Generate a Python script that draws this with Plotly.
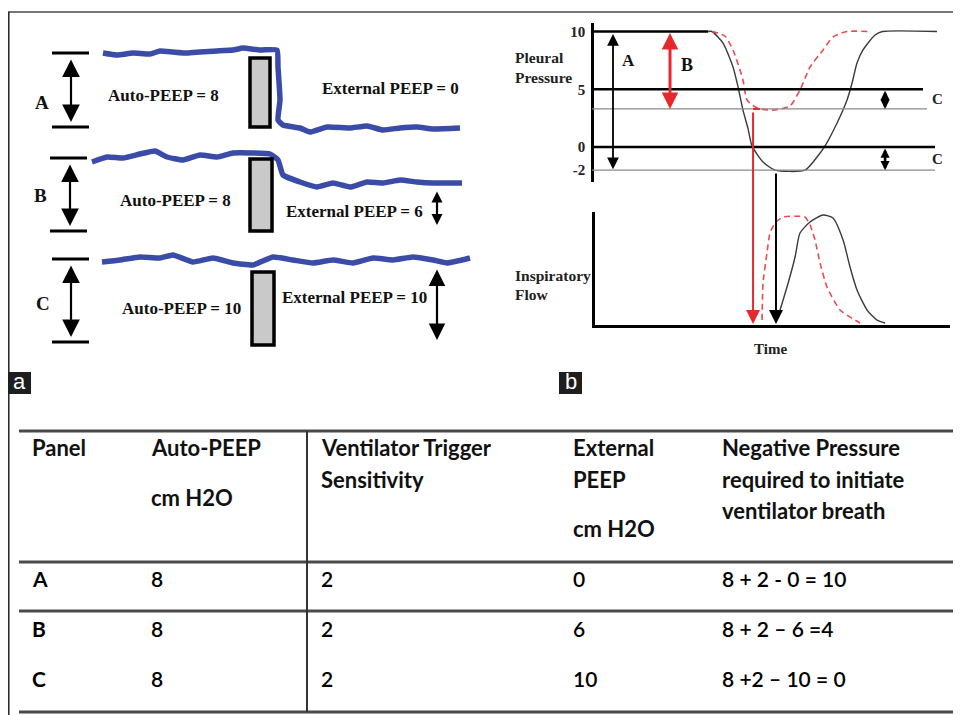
import plotly.graph_objects as go

# page is 961x715; the html body adds an 8px margin, so the figure is sized to fill the rest
OFF = 8
FW, FH = 961 - OFF, 715 - OFF

# ---------------- Panel a: airway pressure traces (schematic units) ----------------
a_trace_A_x = [103, 117, 133, 150, 160, 173, 187, 200, 217, 233, 243, 260, 277, 278, 280, 278, 283, 300, 310, 327, 350, 367, 383, 400, 417, 433, 460]
a_trace_A_y = [53, 55, 53, 54, 51, 52, 53, 52, 51, 50, 48, 50, 50, 67, 100, 120, 125, 128, 132, 127, 128, 126, 130, 128, 127, 129, 128]
a_trace_B_x = [92, 107, 123, 140, 155, 167, 183, 200, 217, 233, 253, 270, 278, 283, 300, 317, 333, 350, 367, 383, 400, 417, 433, 462]
a_trace_B_y = [162, 157, 158, 154, 151, 157, 160, 155, 157, 153, 153, 154, 160, 175, 182, 187, 183, 187, 182, 183, 180, 182, 183, 183]
a_trace_C_x = [102, 120, 140, 160, 173, 193, 213, 233, 253, 273, 293, 313, 333, 353, 373, 393, 413, 433, 447, 470]
a_trace_C_y = [262, 260, 257, 258, 255, 262, 258, 263, 265, 257, 260, 263, 260, 263, 258, 260, 257, 260, 263, 258]

a_row_labels = ["A", "B", "C"]
a_auto_labels = ["Auto-PEEP = 8", "Auto-PEEP = 8", "Auto-PEEP = 10"]
a_ext_labels = ["External PEEP = 0", "External PEEP = 6", "External PEEP = 10"]
a_row_top = [53, 158, 259]
a_row_bottom = [127, 231, 342]
a_occl_x0 = [250, 250, 252]
a_occl_x1 = [270, 272, 274]
a_occl_y0 = [58, 159, 272]
a_occl_y1 = [127, 231, 345]
a_ext_arrow_top = [190, 268]      # rows B, C
a_ext_arrow_bottom = [225, 340]

# ---------------- Panel b: pleural pressure (cm H2O) and inspiratory flow vs time ----------------
pressure_ticks = [10, 5, 0, -2]
ref_levels = [10, 5, 3.3, 0, -2]
ref_end_t = [0.967, 2.758, 2.792, 2.858, 2.858]
ref_thick = [True, True, False, True, False]

p_black_t = [0.967, 1.0, 1.092, 1.175, 1.217, 1.258, 1.3, 1.333, 1.425, 1.525, 1.775, 1.875, 1.942, 2.042, 2.125, 2.167, 2.208, 2.258, 2.358, 2.42, 2.875]
p_black_P = [10, 10, 9.0, 6.93, 5.2, 3.2, 1.6, 0.1, -1.29, -2.0, -2.0, -0.86, 0.1, 2.08, 4.07, 5.54, 7.27, 8.4, 9.7, 10, 10]
p_red_t = [1.0, 1.108, 1.175, 1.258, 1.292, 1.375, 1.508, 1.65, 1.733, 1.817, 1.925, 2.008, 2.125, 2.3]
p_red_P = [10, 9.61, 8.4, 5.8, 4.07, 3.38, 3.2, 3.55, 4.94, 6.93, 8.4, 9.52, 10, 10]

f_black_t = [1.558, 1.567, 1.625, 1.692, 1.733, 1.817, 1.925, 2.008, 2.092, 2.15, 2.208, 2.292, 2.375, 2.442]
f_black_F = [0.09, 0.136, 0.345, 0.618, 0.836, 0.936, 1.0, 0.973, 0.773, 0.527, 0.318, 0.136, 0.045, 0.018]
f_red_t = [1.417, 1.425, 1.458, 1.483, 1.525, 1.592, 1.775, 1.817, 1.858, 1.9, 1.958, 2.067, 2.233]
f_red_F = [0.045, 0.382, 0.655, 0.836, 0.927, 0.982, 0.982, 0.909, 0.773, 0.564, 0.345, 0.136, 0.018]

trigger_t_red = 1.342
trigger_t_black = 1.533
trigger_P_red = 3.3
trigger_P_black = -2

# ---------------- Table ----------------
table_header = [
    [["Panel"]],
    [["Auto-PEEP"], ["cm H2O"]],
    [["Ventilator Trigger", "Sensitivity"]],
    [["External", "PEEP"], ["cm H2O"]],
    [["Negative Pressure", "required to initiate", "ventilator breath"]],
]
table_rows = [
    ["A", "8", "2", "0", "8 + 2 - 0 = 10"],
    ["B", "8", "2", "6", "8 + 2 – 6 =4"],
    ["C", "8", "2", "10", "8 +2 – 10 = 0"],
]


# ---------------- helpers (page pixel -> paper) ----------------
def PX(x):
    return (x - OFF) / FW


def PY(y):
    return 1 - (y - OFF) / FH


BLUE = "#3a4ca8"
RED = "#e5282d"
SERIF = "Liberation Serif"
SANS = "Lato"

fig = go.Figure()

# panel a traces
for xs, ys in [(a_trace_A_x, a_trace_A_y), (a_trace_B_x, a_trace_B_y), (a_trace_C_x, a_trace_C_y)]:
    fig.add_trace(go.Scatter(x=xs, y=ys, mode="lines", xaxis="x", yaxis="y",
                             line=dict(color=BLUE, width=5.5, shape="spline", smoothing=0.4),
                             hoverinfo="skip"))

# panel b pressure curves
fig.add_trace(go.Scatter(x=p_black_t, y=p_black_P, mode="lines", xaxis="x2", yaxis="y2",
                         line=dict(color="#3a3a3a", width=1.4, shape="spline", smoothing=0.6), hoverinfo="skip"))
fig.add_trace(go.Scatter(x=p_red_t, y=p_red_P, mode="lines", xaxis="x2", yaxis="y2",
                         line=dict(color="#ec4a4e", width=1.6, dash="6px,4px", shape="spline", smoothing=0.6),
                         hoverinfo="skip"))
# panel b flow curves
fig.add_trace(go.Scatter(x=f_black_t, y=f_black_F, mode="lines", xaxis="x2", yaxis="y3",
                         line=dict(color="#3a3a3a", width=1.4, shape="spline", smoothing=0.6), hoverinfo="skip"))
fig.add_trace(go.Scatter(x=f_red_t, y=f_red_F, mode="lines", xaxis="x2", yaxis="y3",
                         line=dict(color="#ec4a4e", width=1.6, dash="6px,4px", shape="spline", smoothing=0.5),
                         hoverinfo="skip"))

shapes = []
annotations = []

# ---- frame ----
shapes.append(dict(type="line", xref="paper", yref="paper", x0=PX(8), x1=1, y0=PY(12), y1=PY(12),
                   line=dict(color="#777", width=2)))
shapes.append(dict(type="line", xref="paper", yref="paper", x0=PX(8.8), x1=PX(8.8), y0=PY(12), y1=0,
                   line=dict(color="#222", width=1.5)))

# panel labels a / b
for lab, x0 in [("a", 8), ("b", 559)]:
    shapes.append(dict(type="rect", xref="paper", yref="paper", x0=PX(x0), x1=PX(x0 + 23), y0=PY(394), y1=PY(372),
                       fillcolor="#1e1e1e", line=dict(width=0)))
    annotations.append(dict(text=lab, xref="paper", yref="paper", x=PX(x0 + 11.5), y=PY(382), showarrow=False,
                            xanchor="center", yanchor="middle", font=dict(family="Liberation Sans", size=22, color="white")))

# ---- panel a ----
bar_x0 = [52, 50, 52]
bar_x1 = [89, 87, 89]
arrow_x = [71, 70, 71]
letter_pos = [(42, 102), (40, 195), (43, 303)]
auto_pos = [(163, 95), (175, 200), (181, 308)]
ext_pos = [(390, 88), (354, 211), (354, 297)]
for i in range(3):
    for yv in (a_row_top[i], a_row_bottom[i]):
        shapes.append(dict(type="line", xref="x", yref="y", x0=bar_x0[i], x1=bar_x1[i], y0=yv, y1=yv,
                           line=dict(color="black", width=3)))
    annotations.append(dict(xref="x", yref="y", axref="x", ayref="y", x=arrow_x[i], y=a_row_bottom[i],
                            ax=arrow_x[i], ay=a_row_top[i], showarrow=True, arrowhead=2, arrowsize=1.6,
                            arrowwidth=2.2, arrowcolor="black", arrowside="end+start", standoff=5, startstandoff=5,
                            text=""))
    shapes.append(dict(type="rect", xref="x", yref="y", x0=a_occl_x0[i], x1=a_occl_x1[i], y0=a_occl_y0[i],
                       y1=a_occl_y1[i], fillcolor="#c9c9c9", line=dict(color="black", width=3.5)))
    annotations.append(dict(text="<b>" + a_row_labels[i] + "</b>", xref="x", yref="y", x=letter_pos[i][0],
                            y=letter_pos[i][1], showarrow=False, font=dict(family=SERIF, size=19, color="#111")))
    annotations.append(dict(text="<b>" + a_auto_labels[i] + "</b>", xref="x", yref="y", x=auto_pos[i][0],
                            y=auto_pos[i][1], showarrow=False, font=dict(family=SERIF, size=17, color="#111")))
    annotations.append(dict(text="<b>" + a_ext_labels[i] + "</b>", xref="x", yref="y", x=ext_pos[i][0],
                            y=ext_pos[i][1], showarrow=False, font=dict(family=SERIF, size=17, color="#111")))
for top, bot, hs in zip(a_ext_arrow_top, a_ext_arrow_bottom, [1.0, 1.5]):
    annotations.append(dict(xref="x", yref="y", axref="x", ayref="y", x=437, y=bot, ax=437, ay=top,
                            showarrow=True, arrowhead=2, arrowsize=hs, arrowwidth=2.2, arrowcolor="black",
                            arrowside="end+start", standoff=0, startstandoff=0, text=""))

# ---- panel b ----
for lvl, t_end, thick in zip(ref_levels, ref_end_t, ref_thick):
    shapes.append(dict(type="line", xref="x2", yref="y2", x0=0, x1=t_end, y0=lvl, y1=lvl,
                       line=dict(color="black" if thick else "#8a8a8a", width=2.6 if thick else 1.3)))
# small red connector at trigger level
shapes.append(dict(type="line", xref="x2", yref="y2", x0=trigger_t_red, x1=1.40, y0=trigger_P_red,
                   y1=trigger_P_red, line=dict(color=RED, width=2)))

# A and B double arrows
annotations.append(dict(xref="x2", yref="y2", axref="x2", ayref="y2", x=0.175, y=-2, ax=0.175, ay=10,
                        showarrow=True, arrowhead=2, arrowsize=1.3, arrowwidth=1.8, arrowcolor="black",
                        arrowside="end+start", standoff=1, startstandoff=1, text=""))
annotations.append(dict(xref="x2", yref="y2", axref="x2", ayref="y2", x=0.65, y=3.3, ax=0.65, ay=10,
                        showarrow=True, arrowhead=2, arrowsize=1.1, arrowwidth=3, arrowcolor=RED,
                        arrowside="end+start", standoff=0, startstandoff=0, text=""))
# C arrows
for hi, lo in [(5, 3.3), (0, -2)]:
    annotations.append(dict(xref="x2", yref="y2", axref="x2", ayref="y2", x=2.442, y=lo, ax=2.442, ay=hi,
                            showarrow=True, arrowhead=2, arrowsize=0.7, arrowwidth=2.6, arrowcolor="black",
                            arrowside="end+start", standoff=0, startstandoff=0, text=""))
    annotations.append(dict(text="<b>C</b>", xref="x2", yref="y2", x=2.875, y=(hi + lo) / 2, showarrow=False,
                            font=dict(family=SERIF, size=15, color="#222")))
annotations.append(dict(text="<b>A</b>", xref="x2", yref="y2", x=0.3, y=7.5, showarrow=False,
                        font=dict(family=SERIF, size=17, color="#111")))
annotations.append(dict(text="<b>B</b>", xref="x2", yref="y2", x=0.79, y=7.1, showarrow=False,
                        font=dict(family=SERIF, size=18, color="#111")))

# trigger arrows from pressure to flow baseline
annotations.append(dict(xref="x2", yref="y3", x=trigger_t_red, y=0, axref="pixel", ayref="pixel", ax=0,
                        ay=-214, showarrow=True, arrowhead=2, arrowsize=1.4, arrowwidth=2, arrowcolor=RED,
                        standoff=1, text=""))
annotations.append(dict(xref="x2", yref="y3", x=trigger_t_black, y=0, axref="pixel", ayref="pixel", ax=0,
                        ay=-153, showarrow=True, arrowhead=2, arrowsize=1.4, arrowwidth=2, arrowcolor="black",
                        standoff=1, text=""))

# panel b text labels
for txt, x, y, sz in [("Pleural", 513, 57, 15.5), ("Pressure", 513, 77, 15.5),
                      ("Inspiratory", 513, 275, 15.5), ("Flow", 513, 294, 15.5)]:
    annotations.append(dict(text="<b>" + txt + "</b>", xref="paper", yref="paper", x=PX(x), y=PY(y),
                            xanchor="left", yanchor="middle", showarrow=False,
                            font=dict(family=SERIF, size=sz, color="#222")))
annotations.append(dict(text="<b>Time</b>", xref="paper", yref="paper", x=PX(789), y=PY(349), showarrow=False,
                        font=dict(family=SERIF, size=15, color="#222")))

# ---- table ----
col_x = [30, 149, 319, 571, 720]
line_gap = 31
para_gap = 49
head_y0 = 448
for cx, paras in zip(col_x, table_header):
    y = head_y0
    for pi, para in enumerate(paras):
        if pi > 0:
            y += para_gap - line_gap
        for line in para:
            annotations.append(dict(text="<b>" + line + "</b>", xref="paper", yref="paper", x=PX(cx), y=PY(y),
                                    xanchor="left", yanchor="middle", showarrow=False,
                                    font=dict(family=SANS, size=22, color="#111")))
            y += line_gap
row_y = [578, 628, 678]
for ry, row in zip(row_y, table_rows):
    for ci, (cx, cell) in enumerate(zip(col_x, row)):
        if ci == 0:
            fnt = dict(family=SANS, size=21, color="#000", weight="bold")
        else:
            fnt = dict(family=SANS, size=21, color="#000", weight=600)
        annotations.append(dict(text=cell, xref="paper", yref="paper", x=PX(cx), y=PY(ry), xanchor="left",
                                yanchor="middle", showarrow=False, font=fnt))
for yv in [431, 562, 611, 712]:
    shapes.append(dict(type="line", xref="paper", yref="paper", x0=PX(19), x1=1, y0=PY(yv), y1=PY(yv),
                       line=dict(color="#4a4a4a", width=3)))
shapes.append(dict(type="line", xref="paper", yref="paper", x0=PX(307), x1=PX(307), y0=PY(431), y1=PY(712),
                   line=dict(color="#333", width=2)))

# ---- axes ----
P_top, P_bot = 23, 182          # page-pixel extent of pressure axis
slope = 11.556                  # px per cm H2O
P_ref_px, P_ref = 109.5, 3.25
p_hi = P_ref + (P_ref_px - P_top) / slope
p_lo = P_ref + (P_ref_px - P_bot) / slope

fig.update_layout(
    width=FW, height=FH, margin=dict(l=0, r=0, t=0, b=0),
    paper_bgcolor="white", plot_bgcolor="rgba(0,0,0,0)", showlegend=False,
    xaxis=dict(domain=[0, PX(488)], range=[OFF, 488], visible=False, fixedrange=True),
    yaxis=dict(domain=[PY(408), 1], range=[408, OFF], visible=False, fixedrange=True, anchor="x"),
    xaxis2=dict(domain=[PX(592), PX(950)], range=[0, 2.983], anchor="y3", showline=True, linewidth=2.6,
                linecolor="black", showgrid=False, zeroline=False, showticklabels=False, ticks="", fixedrange=True),
    yaxis2=dict(domain=[PY(P_bot), PY(P_top)], range=[p_lo, p_hi], anchor="free", position=PX(592),
                showline=True, linewidth=2.6, linecolor="black", showgrid=False, zeroline=False,
                tickvals=pressure_ticks, ticktext=["<b>%d</b>" % v for v in pressure_ticks], ticks="",
                ticklabelstandoff=3, tickfont=dict(family=SERIF, size=15, color="#222"), fixedrange=True),
    yaxis3=dict(domain=[PY(325), PY(212)], range=[0, 113 / 110], anchor="free", position=PX(593),
                showline=True, linewidth=2.6, linecolor="black", showgrid=False, zeroline=False,
                showticklabels=False, ticks="", fixedrange=True),
    shapes=shapes, annotations=annotations,
)

fig.write_html("out.html")
